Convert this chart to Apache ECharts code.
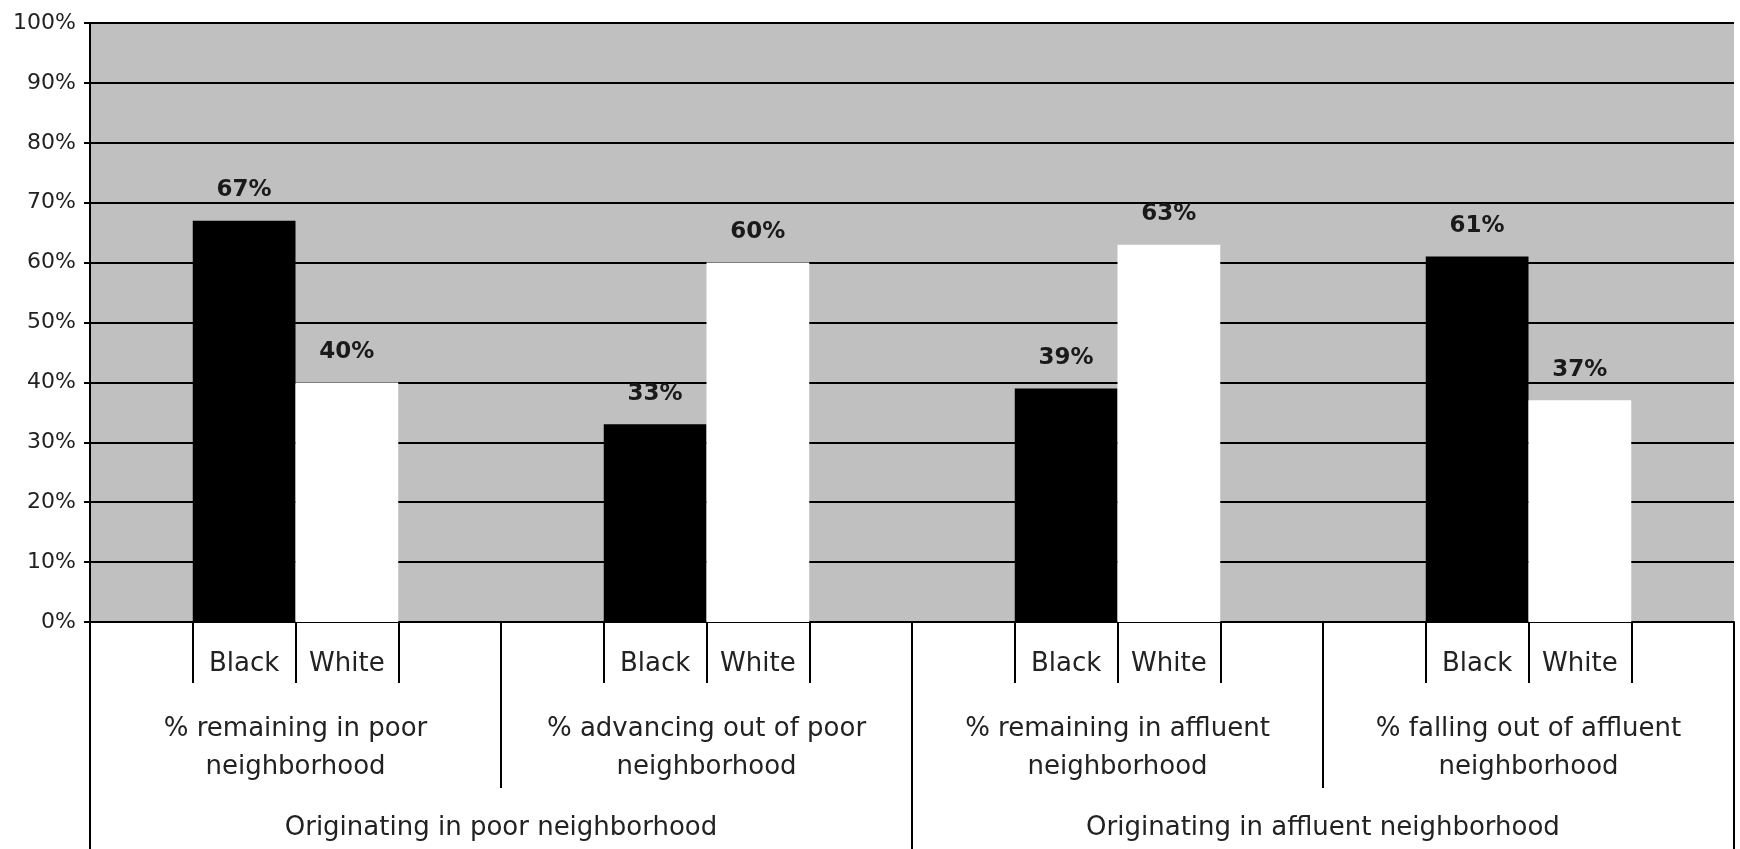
<!DOCTYPE html>
<html>
<head>
<meta charset="utf-8">
<script src="https://cdn.jsdelivr.net/npm/echarts@6/dist/echarts.min.js"></script>
<style>
html,body{margin:0;padding:0;background:#fff;}
#chart{width:1740px;height:849px;}
</style>
</head>
<body>
<div id="chart"></div>
<script>
const categories = ['% remaining in poor\nneighborhood', '% advancing out of poor\nneighborhood', '% remaining in affluent\nneighborhood', '% falling out of affluent\nneighborhood'];
const races = ['Black', 'White'];
const origins = ['Originating in poor neighborhood', 'Originating in affluent neighborhood'];
const blackValues = [67, 33, 39, 61];
const whiteValues = [40, 60, 63, 37];
const yMin = 0, yMax = 100, yStep = 10;

const raceSlots = categories.flatMap(() => ['', ...races, '']);
const FONT = 'DejaVu Sans';
const TXT = '#222';

const chart = echarts.init(document.getElementById('chart'));
chart.setOption({
  animation: false,
  backgroundColor: '#ffffff',
  grid: {
    left: 90, right: 6, top: 23, bottom: 227,
    show: true, backgroundColor: '#c0c0c0', borderWidth: 0,
    outerBoundsMode: 'none', containLabel: false
  },
  xAxis: [
    {
      type: 'category', data: categories, position: 'bottom',
      axisLine: { show: true, lineStyle: { color: '#000', width: 2 } },
      axisTick: { show: true, length: 166, lineStyle: { color: '#000', width: 2 } },
      axisLabel: { interval: 0, margin: 88, fontFamily: FONT, fontSize: 26, color: TXT, lineHeight: 38 },
      splitLine: { show: false }
    },
    {
      type: 'category', data: raceSlots, position: 'bottom',
      axisLine: { show: false },
      axisTick: {
        show: true, length: 61, lineStyle: { color: '#000', width: 2 },
        interval: function (i) { return raceSlots[i] !== '' || (i > 0 && raceSlots[i - 1] === races[races.length - 1]); }
      },
      axisLabel: { interval: 0, margin: 28, fontFamily: FONT, fontSize: 26, color: TXT, lineHeight: 28 },
      splitLine: { show: false }
    },
    {
      type: 'category', data: origins, position: 'bottom',
      axisLine: { show: false },
      axisTick: { show: true, length: 227, lineStyle: { color: '#000', width: 2 } },
      axisLabel: { interval: 0, margin: 192, fontFamily: FONT, fontSize: 26, color: TXT, lineHeight: 28 },
      splitLine: { show: false }
    }
  ],
  yAxis: {
    type: 'value', min: yMin, max: yMax, interval: yStep,
    axisLine: { show: true, lineStyle: { color: '#000', width: 2 } },
    axisTick: { show: true, length: 6, lineStyle: { color: '#000', width: 2 } },
    axisLabel: { formatter: '{value}%', margin: 14, fontFamily: FONT, fontSize: 22, color: TXT },
    splitLine: { show: true, lineStyle: { color: '#000', width: 2 } }
  },
  series: [
    {
      name: races[0], type: 'bar', xAxisIndex: 0, data: blackValues,
      barGap: '0%', barCategoryGap: '50%',
      itemStyle: { color: '#000000' },
      label: { show: true, position: 'top', distance: 19, formatter: '{c}%', fontFamily: FONT, fontWeight: 'bold', fontSize: 23, color: '#1a1a1a' }
    },
    {
      name: races[1], type: 'bar', xAxisIndex: 0, data: whiteValues,
      barGap: '0%', barCategoryGap: '50%',
      itemStyle: { color: '#ffffff' },
      label: { show: true, position: 'top', distance: 19, formatter: '{c}%', fontFamily: FONT, fontWeight: 'bold', fontSize: 23, color: '#1a1a1a' }
    }
  ]
});
</script>
</body>
</html>
